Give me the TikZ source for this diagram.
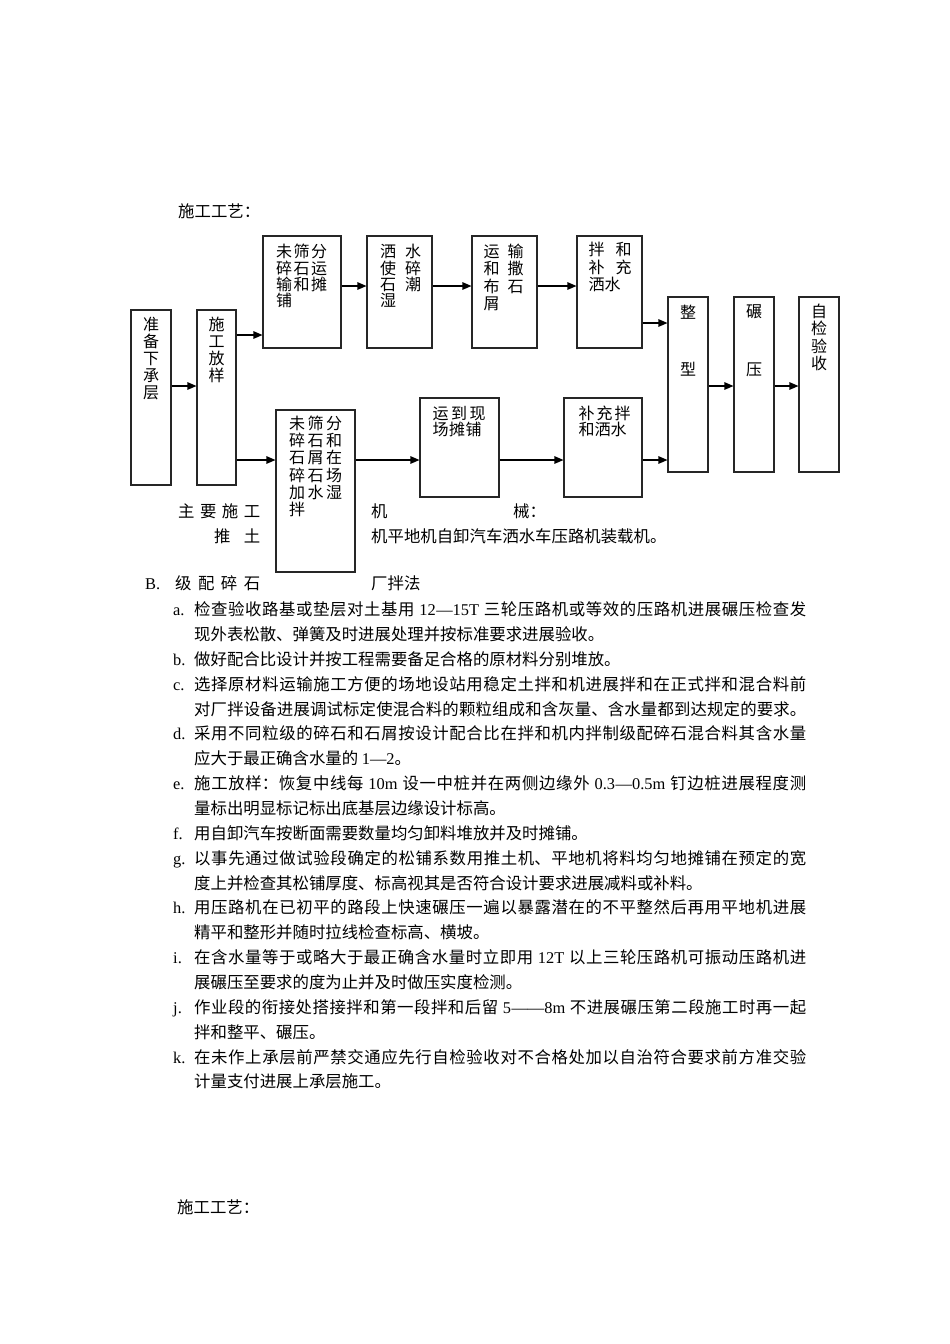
\documentclass[tikz,border=0pt]{standalone}
\usepackage{fontspec}
\setmainfont{Noto Sans CJK SC}
\newfontfamily\latf{Liberation Serif}
\usetikzlibrary{arrows.meta}
\XeTeXlinebreaklocale "zh"
\XeTeXlinebreakskip=0pt plus 1pt
\newcommand\latx[1]{{\latf #1}}
\newcommand\jln[1]{\parbox[b]{612pt}{\parindent=0pt\parfillskip=0pt\tolerance=10000\hbadness=10000 #1}}
\newcommand\rowsx[2]{\vtop{\baselineskip=#1\lineskiplimit=-30pt\lineskip=0pt #2}}
\begin{document}
\begin{tikzpicture}[x=1pt,y=-1pt,
  box/.style={draw=black!85, line width=1.1pt, inner sep=0pt},
  arr/.style={line width=1.1pt, draw=black, -{Triangle[length=9pt,width=7.5pt]}},
  btxt/.style={inner sep=0pt, font=\fontsize{16}{17}\selectfont},
  body/.style={inner sep=0pt, font=\fontsize{16.4}{20}\selectfont},
]
\fill[white] (0,0) rectangle (950,1344);
\useasboundingbox (0,0) rectangle (950,1344);

% header
\node[body, anchor=base west] (h1) at (178,217) {施工工艺：};

% boxes
\node[box, minimum width=40pt, minimum height=175pt] (A) at (151,397.5) {};
\node[box, minimum width=39pt, minimum height=175pt] (B) at (216.5,397.5) {};
\node[box, minimum width=78pt, minimum height=112pt] (C) at (302,292) {};
\node[box, minimum width=65pt, minimum height=112pt] (D) at (399.5,292) {};
\node[box, minimum width=65pt, minimum height=112pt] (E) at (504.5,292) {};
\node[box, minimum width=65pt, minimum height=112pt] (F) at (609.5,292) {};
\node[box, minimum width=40pt, minimum height=175pt] (G) at (688,384.5) {};
\node[box, minimum width=40pt, minimum height=175pt] (H) at (754,384.5) {};
\node[box, minimum width=40pt, minimum height=175pt] (I) at (819,384.5) {};
\node[box, minimum width=79pt, minimum height=162pt] (J) at (315.5,491) {};
\node[box, minimum width=79pt, minimum height=99pt] (K) at (459.5,447.5) {};
\node[box, minimum width=78pt, minimum height=99pt] (L) at (603,447.5) {};

% box texts
\node[btxt, anchor=base] (At) at (151,330.9) {\rowsx{17pt}{\hbox{准}\hbox{备}\hbox{下}\hbox{承}\hbox{层}}};
\node[btxt, anchor=base] (Bt) at (216.5,330.9) {\rowsx{17pt}{\hbox{施}\hbox{工}\hbox{放}\hbox{样}}};
\node[btxt, anchor=base west] (Ct) at (276,257.9) {\rowsx{16.3pt}{\hbox to 51pt{未\hfill 筛\hfill 分}\hbox to 51pt{碎\hfill 石\hfill 运}\hbox to 51pt{输\hfill 和\hfill 摊}\hbox{铺}}};
\node[btxt, anchor=base west] (Dt) at (380,257.9) {\rowsx{16.3pt}{\hbox to 41pt{洒\hfill 水}\hbox to 41pt{使\hfill 碎}\hbox to 41pt{石\hfill 潮}\hbox{湿}}};
\node[btxt, anchor=base west] (Et) at (483.5,257.6) {\rowsx{17.3pt}{\hbox to 40pt{运\hfill 输}\hbox to 40pt{和\hfill 撒}\hbox to 40pt{布\hfill 石}\hbox{屑}}};
\node[btxt, anchor=base west] (Ft) at (588.5,255.9) {\rowsx{17.5pt}{\hbox to 43pt{拌\hfill 和}\hbox to 43pt{补\hfill 充}\hbox{洒水}}};
\node[btxt, anchor=base] (Gt1) at (688,318.9) {整};
\node[btxt, anchor=base] (Gt2) at (688,375.9) {型};
\node[btxt, anchor=base] (Ht1) at (754,317.9) {碾};
\node[btxt, anchor=base] (Ht2) at (754,375.9) {压};
\node[btxt, anchor=base] (It) at (819,317.6) {\rowsx{17.2pt}{\hbox{自}\hbox{检}\hbox{验}\hbox{收}}};
\node[btxt, anchor=base west] (Jt) at (289,429.2) {\rowsx{17.3pt}{\hbox to 53pt{未\hfill 筛\hfill 分}\hbox to 53pt{碎\hfill 石\hfill 和}\hbox to 53pt{石\hfill 屑\hfill 在}\hbox to 53pt{碎\hfill 石\hfill 场}\hbox to 53pt{加\hfill 水\hfill 湿}\hbox{拌}}};
\node[btxt, anchor=base west] (Kt) at (432.5,419.2) {\rowsx{16pt}{\hbox to 53pt{运\hfill 到\hfill 现}\hbox to 49pt{场\hfill 摊\hfill 铺}}};
\node[btxt, anchor=base west] (Lt) at (578.5,419.2) {\rowsx{16pt}{\hbox to 52pt{补\hfill 充\hfill 拌}\hbox to 48pt{和\hfill 洒\hfill 水}}};

% connectors
\draw[arr] ([yshift=11.5pt]A.east) -- ([yshift=11.5pt]A.east -| B.west);
\draw[arr] ([yshift=62.5pt]B.east) -- ([yshift=62.5pt]B.east -| C.west);
\draw[arr] ([yshift=-62.5pt]B.east) -- ([yshift=-62.5pt]B.east -| J.west);
\draw[arr] ([yshift=6pt]C.east) -- ([yshift=6pt]C.east -| D.west);
\draw[arr] ([yshift=6pt]D.east) -- ([yshift=6pt]D.east -| E.west);
\draw[arr] ([yshift=6pt]E.east) -- ([yshift=6pt]E.east -| F.west);
\draw[arr] ([yshift=-31pt]F.east) -- ([yshift=-31pt]F.east -| G.west);
\draw[arr] ([yshift=31pt]J.east) -- ([yshift=31pt]J.east -| K.west);
\draw[arr] ([yshift=-12.5pt]K.east) -- ([yshift=-12.5pt]K.east -| L.west);
\draw[arr] ([yshift=-12.5pt]L.east) -- ([yshift=-12.5pt]L.east -| G.west);
\draw[arr] ([yshift=-1.5pt]G.east) -- ([yshift=-1.5pt]G.east -| H.west);
\draw[arr] ([yshift=-1.5pt]H.east) -- ([yshift=-1.5pt]H.east -| I.west);

% text under chart
\node[body, anchor=base west] (m1) at (178,517) {\hbox to 82pt{主\hfill 要\hfill 施\hfill 工}};
\node[body, anchor=base west] (m2) at (371,517) {机};
\node[body, anchor=base west] (m3) at (513,517) {械：};
\node[body, anchor=base west] (m4) at (214,542.5) {\hbox to 46pt{推\hfill 土}};
\node[body, anchor=base west] (m5) at (371,542.5) {机平地机自卸汽车洒水车压路机装载机。};
\node[body, anchor=base west] (bB) at (145,589) {\latx{B.}};
\node[body, anchor=base west] (bT) at (175,589) {\hbox to 85pt{级\hfill 配\hfill 碎\hfill 石}};
\node[body, anchor=base west] (bM) at (371,589) {厂拌法};

% list
\node[body, anchor=base west] (la) at (173,615.7) {\latx{a.}};
\node[body, anchor=base west] (ta1) at (194,615.7) {\jln{检查验收路基或垫层对土基用 \latx{12—15T} 三轮压路机或等效的压路机进展碾压检查发}};
\node[body, anchor=base west] (ta2) at (194,640.55) {现外表松散、弹簧及时进展处理并按标准要求进展验收。};
\node[body, anchor=base west] (lb) at (173,665.4) {\latx{b.}};
\node[body, anchor=base west] (tb1) at (194,665.4) {做好配合比设计并按工程需要备足合格的原材料分别堆放。};
\node[body, anchor=base west] (lc) at (173,690.25) {\latx{c.}};
\node[body, anchor=base west] (tc1) at (194,690.25) {\jln{选择原材料运输施工方便的场地设站用稳定土拌和机进展拌和在正式拌和混合料前}};
\node[body, anchor=base west] (tc2) at (194,715.1) {\jln{对厂拌设备进展调试标定使混合料的颗粒组成和含灰量、含水量都到达规定的要求。}};
\node[body, anchor=base west] (ld) at (173,739.95) {\latx{d.}};
\node[body, anchor=base west] (td1) at (194,739.95) {\jln{采用不同粒级的碎石和石屑按设计配合比在拌和机内拌制级配碎石混合料其含水量}};
\node[body, anchor=base west] (td2) at (194,764.8) {应大于最正确含水量的 \latx{1—2}。};
\node[body, anchor=base west] (le) at (173,789.65) {\latx{e.}};
\node[body, anchor=base west] (te1) at (194,789.65) {\jln{施工放样：恢复中线每 \latx{10m} 设一中桩并在两侧边缘外 \latx{0.3—0.5m} 钉边桩进展程度测}};
\node[body, anchor=base west] (te2) at (194,814.5) {量标出明显标记标出底基层边缘设计标高。};
\node[body, anchor=base west] (lf) at (173,839.35) {\latx{f.}};
\node[body, anchor=base west] (tf1) at (194,839.35) {用自卸汽车按断面需要数量均匀卸料堆放并及时摊铺。};
\node[body, anchor=base west] (lg) at (173,864.2) {\latx{g.}};
\node[body, anchor=base west] (tg1) at (194,864.2) {\jln{以事先通过做试验段确定的松铺系数用推土机、平地机将料均匀地摊铺在预定的宽}};
\node[body, anchor=base west] (tg2) at (194,889.05) {度上并检查其松铺厚度、标高视其是否符合设计要求进展减料或补料。};
\node[body, anchor=base west] (lh) at (173,913.9) {\latx{h.}};
\node[body, anchor=base west] (th1) at (194,913.9) {\jln{用压路机在已初平的路段上快速碾压一遍以暴露潜在的不平整然后再用平地机进展}};
\node[body, anchor=base west] (th2) at (194,938.75) {精平和整形并随时拉线检查标高、横坡。};
\node[body, anchor=base west] (li) at (173,963.6) {\latx{i.}};
\node[body, anchor=base west] (ti1) at (194,963.6) {\jln{在含水量等于或略大于最正确含水量时立即用 \latx{12T} 以上三轮压路机可振动压路机进}};
\node[body, anchor=base west] (ti2) at (194,988.45) {展碾压至要求的度为止并及时做压实度检测。};
\node[body, anchor=base west] (lj) at (173,1013.3) {\latx{j.}};
\node[body, anchor=base west] (tj1) at (194,1013.3) {\jln{作业段的衔接处搭接拌和第一段拌和后留 \latx{5——8m} 不进展碾压第二段施工时再一起}};
\node[body, anchor=base west] (tj2) at (194,1038.15) {拌和整平、碾压。};
\node[body, anchor=base west] (lk) at (173,1063) {\latx{k.}};
\node[body, anchor=base west] (tk1) at (194,1063) {\jln{在未作上承层前严禁交通应先行自检验收对不合格处加以自治符合要求前方准交验}};
\node[body, anchor=base west] (tk2) at (194,1087.85) {计量支付进展上承层施工。};

% bottom header
\node[body, anchor=base west] (h2) at (177,1213) {施工工艺：};
\end{tikzpicture}
\end{document}
